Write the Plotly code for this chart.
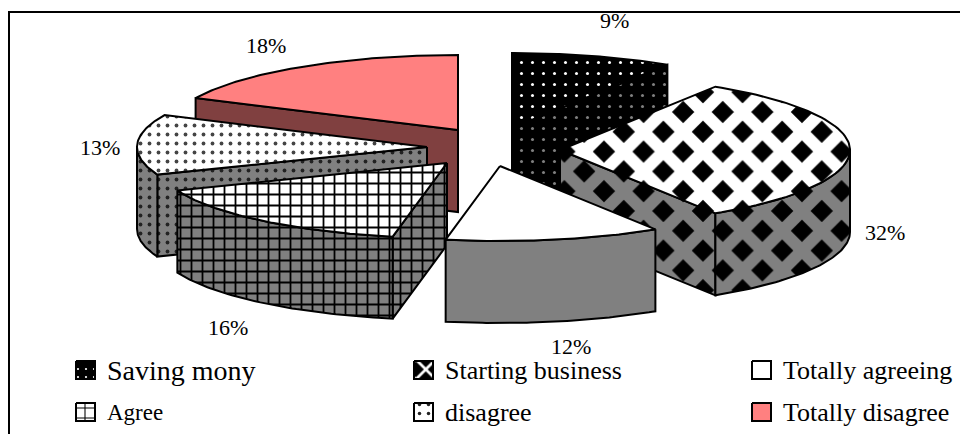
import numpy as np
import plotly.graph_objects as go

# ---- data ----
categories = ["Saving mony", "Starting business", "Totally agreeing", "Agree", "disagree", "Totally disagree"]
values = [9, 32, 12, 16, 13, 18]

# ---- pie geometry (pixels) ----
CX, CY = 487, 148
RX, RY = 290, 75
DEPTH = 82
# exploded offset of each slice from the pie centre
OFFSETS = [(25, -20), (73, 2), (13, 18), (-40, 15), (-60, -1), (-29, -18)]
LABEL_POS = [(614, 20), (885, 232), (571, 346), (228, 327), (100, 147), (266, 45)]
LEGEND_POS = [(76, 370), (414, 370), (752, 370), (76, 412), (414, 412), (752, 412)]
LEGEND_SIZE = [28, 26, 26, 23, 26, 26]

SER = "Liberation Serif"
BLACK, GRAY, WHITE = "#000000", "#808080", "#ffffff"


def pat(shape, fg, bg, size, solidity):
    return dict(shape=shape, fgcolor=fg, bgcolor=bg, size=size, solidity=solidity, fillmode="replace")


STYLES = [
    dict(top=pat(".", WHITE, BLACK, 11, 0.06), side=pat(".", GRAY, BLACK, 11, 0.06)),
    dict(top=pat("x", WHITE, BLACK, 28, 0.68), side=pat("x", GRAY, BLACK, 28, 0.68)),
    dict(top=None, topc=WHITE, side=None, sidec=GRAY),
    dict(top=pat("+", BLACK, WHITE, 11, 0.3), side=pat("+", BLACK, GRAY, 11, 0.3)),
    dict(top=pat(".", "#444444", WHITE, 9, 0.14), side=pat(".", "#222222", GRAY, 9, 0.14)),
    dict(top=None, topc="#FF8080", side=None, sidec="#804040"),
]
SWATCHES = [
    pat(".", WHITE, BLACK, 8, 0.06),
    pat("x", WHITE, BLACK, 14, 0.35),
    None,
    pat("+", BLACK, WHITE, 10, 0.2),
    pat(".", "#222222", WHITE, 9, 0.12),
    None,
]
SWATCH_FILL = [BLACK, WHITE, WHITE, WHITE, WHITE, "#FF8080"]

fracs = np.array(values) / sum(values) * 360
ends = np.cumsum(fracs)
starts = ends - fracs


def pt(a, ax, ay):
    r = np.radians(a)
    return ax + RX * np.sin(r), ay - RY * np.cos(r)


fig = go.Figure()


def poly(xs, ys, pattern=None, color=WHITE):
    t = dict(
        x=list(xs), y=list(ys), mode="lines", fill="toself",
        line=dict(color=BLACK, width=2), showlegend=False, hoverinfo="skip",
    )
    if pattern:
        t["fillpattern"] = pattern
        t["fillcolor"] = pattern["bgcolor"]
    else:
        t["fillcolor"] = color
    fig.add_trace(go.Scatter(**t))


def draw_slice(i):
    a0, a1 = starts[i], ends[i]
    ax, ay = CX + OFFSETS[i][0], CY + OFFSETS[i][1]
    st = STYLES[i]
    # cut faces that face the viewer
    faces = []
    if 180 < a0 < 360:
        faces.append(a0)
    if 0 < a1 < 180:
        faces.append(a1)
    for a in faces:
        ox, oy = pt(a, ax, ay)
        poly([ax, ox, ox, ax, ax], [ay, oy, oy + DEPTH, ay + DEPTH, ay], st["side"], st.get("sidec", WHITE))
    # rim
    lo, hi = max(a0, 90), min(a1, 270)
    if hi > lo:
        th = np.linspace(lo, hi, 60)
        x, y = pt(th, ax, ay)
        poly(np.r_[x, x[::-1], x[0]], np.r_[y, y[::-1] + DEPTH, y[0]], st["side"], st.get("sidec", WHITE))
    # top surface
    th = np.linspace(a0, a1, 80)
    x, y = pt(th, ax, ay)
    poly(np.r_[ax, x, ax], np.r_[ay, y, ay], st["top"], st.get("topc", WHITE))


for i in [0, 5, 4, 1, 3, 2]:
    draw_slice(i)

annotations = []
for v, (x, y) in zip(values, LABEL_POS):
    annotations.append(dict(x=x, y=y, text=f"{v}%", showarrow=False, xanchor="center", yanchor="middle",
                            font=dict(family=SER, size=22, color=BLACK)))

for i, (name, (x, y), size) in enumerate(zip(categories, LEGEND_POS, LEGEND_SIZE)):
    poly([x, x + 19, x + 19, x, x], [y - 9, y - 9, y + 9, y + 9, y - 9], SWATCHES[i], SWATCH_FILL[i])
    annotations.append(dict(x=x + 29, y=y, text=name, showarrow=False, xanchor="left", yanchor="middle",
                            font=dict(family=SER, size=size, color=BLACK)))

fig.update_layout(
    width=960, height=434, margin=dict(l=0, r=0, t=0, b=0),
    paper_bgcolor=WHITE, plot_bgcolor=WHITE, showlegend=False,
    annotations=annotations,
    xaxis=dict(domain=[10 / 960, 1], range=[10, 960], side="top", showline=True, linecolor=BLACK, linewidth=1.5,
               showgrid=False, zeroline=False, showticklabels=False, ticks=""),
    yaxis=dict(domain=[0, 1 - 13 / 434], range=[434, 13], side="left", showline=True, linecolor=BLACK, linewidth=1.5,
               showgrid=False, zeroline=False, showticklabels=False, ticks=""),
)

fig.write_html("out.html", config={"displayModeBar": False}, post_script="document.body.style.margin='0';")
